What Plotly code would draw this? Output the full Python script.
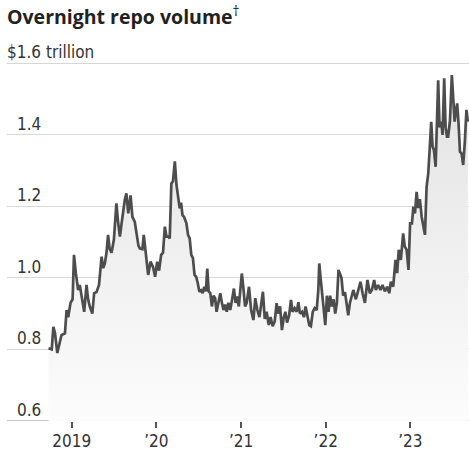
import plotly.graph_objects as go

# Overnight repo volume, $ trillion
dates = [
    "2018-09-23", "2018-10-07", "2018-10-14", "2018-10-21", "2018-10-31", "2018-11-11",
    "2018-11-18", "2018-12-03", "2018-12-10", "2018-12-17", "2018-12-27", "2019-01-05",
    "2019-01-11", "2019-01-19", "2019-01-29", "2019-02-05", "2019-02-12", "2019-02-24",
    "2019-03-06", "2019-03-13", "2019-03-20", "2019-03-31", "2019-04-08", "2019-04-18",
    "2019-04-29", "2019-05-10", "2019-05-17", "2019-05-24", "2019-05-31", "2019-06-07",
    "2019-06-14", "2019-06-22", "2019-07-02", "2019-07-13", "2019-07-20", "2019-07-28",
    "2019-08-04", "2019-08-11", "2019-08-18", "2019-08-25", "2019-09-02", "2019-09-12",
    "2019-09-20", "2019-09-30", "2019-10-08", "2019-10-16", "2019-10-22", "2019-11-02",
    "2019-11-08", "2019-11-14", "2019-11-20", "2019-11-27", "2019-12-07", "2019-12-18",
    "2019-12-27", "2020-01-05", "2020-01-13", "2020-01-22", "2020-01-30", "2020-02-07",
    "2020-02-14", "2020-02-21", "2020-02-28", "2020-03-06", "2020-03-13", "2020-03-21",
    "2020-03-28", "2020-04-04", "2020-04-11", "2020-04-17", "2020-04-23", "2020-04-30",
    "2020-05-10", "2020-05-17", "2020-05-24", "2020-05-31", "2020-06-07", "2020-06-14",
    "2020-06-21", "2020-06-28", "2020-07-05", "2020-07-12", "2020-07-19", "2020-07-26",
    "2020-08-02", "2020-08-08", "2020-08-14", "2020-08-21", "2020-08-28", "2020-09-04",
    "2020-09-11", "2020-09-17", "2020-09-26", "2020-10-03", "2020-10-10", "2020-10-17",
    "2020-10-24", "2020-10-31", "2020-11-07", "2020-11-15", "2020-11-24", "2020-12-01",
    "2020-12-08", "2020-12-15", "2020-12-22", "2021-01-04", "2021-01-11", "2021-01-18",
    "2021-01-25", "2021-02-04", "2021-02-13", "2021-02-23", "2021-03-03", "2021-03-12",
    "2021-03-21", "2021-03-29", "2021-04-05", "2021-04-13", "2021-04-21", "2021-04-30",
    "2021-05-08", "2021-05-17", "2021-05-26", "2021-06-03", "2021-06-10", "2021-06-18",
    "2021-06-26", "2021-07-04", "2021-07-11", "2021-07-18", "2021-07-27", "2021-08-04",
    "2021-08-11", "2021-08-20", "2021-08-29", "2021-09-05", "2021-09-12", "2021-09-21",
    "2021-09-29", "2021-10-06", "2021-10-15", "2021-10-22", "2021-10-29", "2021-11-06",
    "2021-11-14", "2021-11-23", "2021-11-30", "2021-12-04", "2021-12-12", "2021-12-19",
    "2021-12-24", "2021-12-30", "2022-01-06", "2022-01-13", "2022-01-20", "2022-01-27",
    "2022-02-04", "2022-02-11", "2022-02-18", "2022-02-25", "2022-03-10", "2022-03-17",
    "2022-03-25", "2022-04-01", "2022-04-08", "2022-04-15", "2022-04-30", "2022-05-11",
    "2022-05-21", "2022-05-31", "2022-06-09", "2022-06-19", "2022-06-30", "2022-07-10",
    "2022-07-19", "2022-07-29", "2022-08-05", "2022-08-15", "2022-08-25", "2022-09-03",
    "2022-09-13", "2022-09-23", "2022-10-02", "2022-10-09", "2022-10-19", "2022-10-29",
    "2022-11-05", "2022-11-12", "2022-11-21", "2022-12-01", "2022-12-08", "2022-12-16",
    "2022-12-24", "2022-12-31", "2023-01-08", "2023-01-14", "2023-01-21", "2023-01-28",
    "2023-02-04", "2023-02-11", "2023-02-19", "2023-02-26", "2023-03-05", "2023-03-12",
    "2023-03-19", "2023-03-26", "2023-04-01", "2023-04-07", "2023-04-13", "2023-04-20",
    "2023-04-26", "2023-05-01", "2023-05-07", "2023-05-14", "2023-05-20", "2023-05-27",
    "2023-06-02", "2023-06-08", "2023-06-13", "2023-06-21", "2023-06-29", "2023-07-05",
    "2023-07-11", "2023-07-17", "2023-07-22", "2023-07-28", "2023-08-03", "2023-08-10",
    "2023-08-17", "2023-08-24", "2023-08-31", "2023-09-06",
]

volume = [
    0.803, 0.800, 0.863, 0.846, 0.790, 0.826,
    0.840, 0.845, 0.910, 0.890, 0.930, 0.940,
    1.064, 1.013, 0.966, 0.980, 0.947, 0.905,
    0.980, 0.940, 0.920, 0.900, 0.957, 0.960,
    0.980, 1.059, 1.027, 1.040, 1.069, 1.120,
    1.080, 1.070, 1.106, 1.208, 1.157, 1.115,
    1.150, 1.190, 1.217, 1.236, 1.180, 1.230,
    1.170, 1.157, 1.129, 1.090, 1.082, 1.080,
    1.120, 1.080, 1.040, 1.008, 1.045, 1.030,
    1.003, 1.045, 1.020, 1.064, 1.070, 1.143,
    1.115, 1.115, 1.110, 1.263, 1.270, 1.325,
    1.260, 1.230, 1.194, 1.210, 1.175, 1.170,
    1.152, 1.120, 1.110, 1.064, 1.055, 1.008,
    1.003, 0.985, 0.961, 0.965, 0.957, 0.975,
    0.962, 1.026, 0.962, 0.957, 0.920, 0.950,
    0.943, 0.905, 0.934, 0.957, 0.930, 0.910,
    0.925, 0.905, 0.930, 0.910, 0.943, 0.970,
    0.930, 0.948, 0.920, 1.012, 0.970, 0.920,
    0.930, 0.975, 0.910, 0.882, 0.943, 0.910,
    0.890, 0.925, 0.961, 0.885, 0.905, 0.868,
    0.890, 0.865, 0.878, 0.929, 0.900, 0.920,
    0.854, 0.890, 0.905, 0.875, 0.895, 0.938,
    0.905, 0.915, 0.905, 0.932, 0.900, 0.905,
    0.890, 0.920, 0.890, 0.868, 0.865, 0.905,
    0.915, 0.910, 0.966, 1.040, 0.985, 0.938,
    0.915, 0.868, 0.950, 0.905, 0.950, 0.920,
    0.940, 0.900, 0.930, 1.022, 1.000, 0.950,
    0.960, 0.920, 0.895, 0.929, 0.966, 0.940,
    0.966, 0.989, 0.957, 0.930, 0.994, 0.957,
    0.966, 0.994, 0.966, 0.980, 0.966, 0.980,
    0.962, 0.975, 0.957, 0.989, 0.975, 1.050,
    1.013, 1.078, 1.050, 1.124, 1.087, 1.078,
    1.022, 1.152, 1.152, 1.199, 1.180, 1.240,
    1.195, 1.220, 1.170, 1.143, 1.120, 1.254,
    1.290, 1.366, 1.436, 1.366, 1.356, 1.310,
    1.422, 1.552, 1.420, 1.436, 1.399, 1.557,
    1.420, 1.394, 1.394, 1.440, 1.566, 1.478,
    1.436, 1.469, 1.487, 1.430, 1.352, 1.347,
    1.315, 1.380, 1.469, 1.436,
]

y_ticks = [0.6, 0.8, 1.0, 1.2, 1.4, 1.6]
y_labels = ["0.6", "0.8", "1.0", "1.2", "1.4", "$1.6 trillion"]
x_ticks = ["2019-01-01", "2020-01-01", "2021-01-01", "2022-01-01", "2023-01-01"]
x_labels = ["2019", "\u201920", "\u201921", "\u201922", "\u201923"]

NARROW = "DejaVu Sans Condensed, Liberation Sans Narrow, sans-serif"
TITLE_FONT = "Open Sans, Noto Sans, sans-serif"
W, H = 469, 455
ML, MR, MT, MB = 7, 0, 63, 34

fig = go.Figure()

fig.add_trace(
    go.Scatter(
        x=dates,
        y=volume,
        mode="lines",
        line=dict(color="#4d4d4d", width=2.7),
        fill="tozeroy",
        fillgradient=dict(
            type="vertical",
            colorscale=[[0, "#fcfcfc"], [1, "#e2e2e2"]],
            start=0.6,
            stop=1.6,
        ),
        hoverinfo="skip",
        showlegend=False,
    )
)

# y labels sit above their gridlines, inside the plot
for v, lab in zip(y_ticks, y_labels):
    fig.add_annotation(
        x=0 if lab.startswith("$") else 9.5 / (W - ML - MR),
        xref="paper",
        xanchor="left",
        xshift=-2,
        y=v,
        yref="y",
        yanchor="bottom",
        yshift=-1,
        text=lab,
        showarrow=False,
        font=dict(family=NARROW, size=17, color="#333333"),
    )

fig.update_layout(
    width=W,
    height=H,
    margin=dict(l=ML, r=MR, t=MT, b=MB),
    paper_bgcolor="white",
    plot_bgcolor="white",
    title=dict(
        text="<b>Overnight repo volume</b><sup>\u2020</sup>",
        x=ML / W,
        xanchor="left",
        y=1 - 17 / H,
        yanchor="middle",
        font=dict(family=TITLE_FONT, size=19.5, color="#222222"),
    ),
    showlegend=False,
    hovermode=False,
)

fig.update_xaxes(
    range=["2018-03-28", "2023-09-11"],
    tickvals=x_ticks,
    ticktext=x_labels,
    ticks="outside",
    ticklen=6,
    tickwidth=1.5,
    tickcolor="#555555",
    ticklabelstandoff=-1,
    tickfont=dict(family=NARROW, size=17, color="#333333"),
    showgrid=False,
    showline=False,
    zeroline=False,
    automargin=False,
)

fig.update_yaxes(
    range=[0.6, 1.6],
    tickvals=y_ticks,
    showticklabels=False,
    showgrid=True,
    gridcolor="#d9d9d9",
    gridwidth=1,
    zeroline=False,
    showline=False,
)

# heavier rules at the bottom and top of the scale
fig.add_hline(y=0.6, line=dict(color="#c8c8c8", width=2), layer="below")
fig.add_hline(y=1.6, line=dict(color="#d6d6d6", width=2), layer="below")

# drop the browser's default body margin so the chart sits at the page corner
fig.write_html(
    "out.html",
    config={"displayModeBar": False},
    post_script="document.body.style.margin='0px';",
)
